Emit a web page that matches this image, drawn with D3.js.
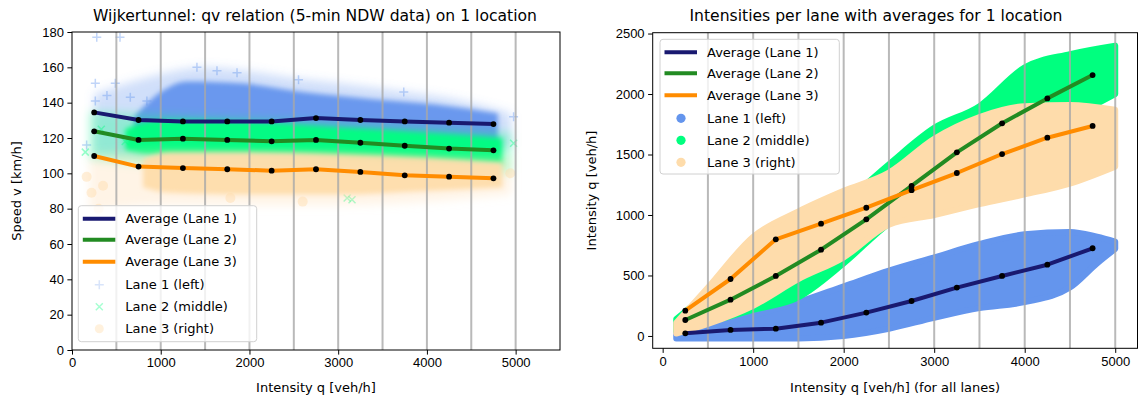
<!DOCTYPE html>
<html>
<head>
<meta charset="utf-8">
<script src="https://cdn.jsdelivr.net/npm/d3@7"></script>
<style>
body { margin: 0; background: #fff; }
svg { display: block; font-family: "DejaVu Sans", sans-serif; }
.tick text { font-size: 13px; fill: #000; }
.tick line { stroke: #000; }
</style>
</head>
<body>
<svg width="1138" height="399"></svg>
<script>
// bin centres of the averages and the grey vertical guides
const bins = [250, 750, 1250, 1750, 2250, 2750, 3250, 3750, 4250, 4750]
const guides = [500, 1000, 1500, 2000, 2500, 3000, 3500, 4000, 4500, 5000]

// left: average speed per lane [km/h]
const speedLane1 = [134.5, 130.2, 129.4, 129.4, 129.4, 131.3, 130.2, 129.4, 128.7, 127.9]
const speedLane2 = [123.8, 118.9, 119.6, 118.9, 118.1, 118.9, 117.3, 115.6, 114.0, 113.0]
const speedLane3 = [109.8, 103.8, 103.0, 102.3, 101.5, 102.3, 100.8, 98.9, 98.1, 97.2]

// right: average lane intensity [veh/h]
const flowLane1 = [22, 50, 60, 110, 193, 289, 400, 496, 589, 725]
const flowLane2 = [132, 300, 496, 713, 964, 1240, 1518, 1758, 1964, 2157]
const flowLane3 = [209, 471, 799, 928, 1060, 1205, 1347, 1504, 1639, 1736]

// left scatter clouds as [q, low, high] envelopes (halo = sparse, core = dense)
const haloSpeed1 = [[250, 110, 145], [900, 110, 155], [1500, 110, 160], [2500, 110, 154], [3500, 110, 148], [4500, 110, 140], [4950, 115, 134]]
const coreSpeed1 = [[700, 118, 132], [1000, 116, 146], [1300, 115, 152], [1900, 115, 151], [2600, 115, 146], [3400, 114, 142], [4100, 113, 139], [4800, 113, 134]]
const haloSpeed2 = [[200, 108, 135], [1000, 104, 133], [3000, 100, 129], [4950, 100, 123]]
const coreSpeed2 = [[600, 113, 125], [1000, 110, 130], [2000, 110, 129], [3000, 108, 126], [4000, 106, 123], [4850, 105, 120]]
const haloSpeed3 = [[200, 78, 110], [1000, 82, 113], [3000, 82, 112], [4950, 88, 109]]
const coreSpeed3 = [[800, 92, 108], [1100, 89, 112], [2000, 88, 112], [3000, 88, 111], [4000, 90, 109], [4850, 92, 106]]

// left scatter outliers [q, v]
const outSpeed1 = [[279, 177], [541, 177], [263, 151], [488, 151], [263, 141], [394, 144], [657, 143], [844, 141], [1408, 160], [1634, 158], [1860, 157], [2553, 153], [3739, 146], [4977, 132], [165, 116]]
const outSpeed2 = [[4977, 117], [3101, 86], [3156, 85], [150, 112], [330, 125], [600, 118]]
const outSpeed3 = [[165, 98], [220, 89], [350, 93], [4940, 100], [1785, 86], [300, 80], [2600, 84]]

// right scatter clouds as [q, low, high] envelopes
const cloudFlow1 = [[150, -20, 40], [500, -20, 90], [1000, -20, 170], [1500, -20, 280], [2000, 0, 410], [2500, 60, 540], [3000, 150, 650], [3500, 230, 760], [4000, 280, 840], [4500, 400, 860], [4800, 600, 820], [5000, 720, 780]]
const cloudFlow2 = [[150, 40, 140], [500, 110, 350], [1000, 215, 600], [1500, 320, 850], [2000, 600, 1100], [2500, 930, 1420], [3000, 1150, 1720], [3500, 1400, 1900], [4000, 1600, 2220], [4500, 1800, 2330], [5000, 2000, 2400]]
const cloudFlow3 = [[150, 20, 110], [500, 100, 400], [1000, 250, 820], [1500, 470, 1030], [2000, 650, 1200], [2500, 920, 1350], [3000, 1000, 1630], [3500, 1090, 1810], [4000, 1170, 1900], [4500, 1260, 1910], [5000, 1400, 1870]]

const navy = '#191970', green = '#228b22', orange = '#ff8c00'
const blue = '#6495ed', spring = '#00ff7f', peach = '#fedcab'

let svg = d3.select('svg')

let defs = svg.append('defs')
defs.append('filter').attr('id', 'soft').attr('x', '-10%').attr('y', '-30%').attr('width', '120%').attr('height', '160%')
.append('feGaussianBlur').attr('stdDeviation', 2.5)
defs.append('filter').attr('id', 'softer').attr('x', '-10%').attr('y', '-30%').attr('width', '120%').attr('height', '160%')
.append('feGaussianBlur').attr('stdDeviation', 5)

const drawAxes = (g, x, y, yTicks, title, titleX, xLabel, yLabel, yLabelX) => {
	g.append('g')
	.attr('transform', `translate(0, ${y.range()[0]})`)
	.call(d3.axisBottom(x).tickValues([0, 1000, 2000, 3000, 4000, 5000]).tickFormat(d3.format('d')).tickSize(4.6).tickPadding(3.5))
	.call(a => a.select('.domain').remove())

	g.append('g')
	.attr('transform', `translate(${x.range()[0]}, 0)`)
	.call(d3.axisLeft(y).tickValues(yTicks).tickFormat(d3.format('d')).tickSize(4.6).tickPadding(3.5))
	.call(a => a.select('.domain').remove())

	g.append('rect')
	.attr('x', x.range()[0]).attr('y', y.range()[1])
	.attr('width', x.range()[1] - x.range()[0])
	.attr('height', y.range()[0] - y.range()[1])
	.attr('fill', 'none').attr('stroke', '#000').attr('stroke-width', 1)

	g.append('text').attr('x', titleX).attr('y', 21)
	.attr('text-anchor', 'middle').attr('font-size', 15.6).text(title)

	g.append('text').attr('x', (x.range()[0] + x.range()[1]) / 2).attr('y', 392)
	.attr('text-anchor', 'middle').attr('font-size', 13).text(xLabel)

	g.append('text')
	.attr('transform', `translate(${yLabelX}, ${(y.range()[0] + y.range()[1]) / 2}) rotate(-90)`)
	.attr('text-anchor', 'middle').attr('font-size', 13).text(yLabel)
}

const drawGuides = (g, x, y) => {
	g.append('g').selectAll('line')
	.data(guides).enter().append('line')
	.attr('x1', d => x(d)).attr('x2', d => x(d))
	.attr('y1', y.range()[0]).attr('y2', y.range()[1])
	.attr('stroke', '#a8a8a8').attr('stroke-opacity', 0.8).attr('stroke-width', 2)
}

const drawAverages = (g, x, y, series) => {
	let line = d3.line().x((d, i) => x(bins[i])).y(d => y(d))
	series.forEach(s => {
		g.append('path').attr('d', line(s.values))
		.attr('fill', 'none').attr('stroke', s.color).attr('stroke-width', 4)
		.attr('stroke-linejoin', 'round')
	})
	series.forEach(s => {
		g.append('g').selectAll('circle')
		.data(s.values).enter().append('circle')
		.attr('cx', (d, i) => x(bins[i])).attr('cy', d => y(d))
		.attr('r', 2.9).attr('fill', '#000')
	})
}

const plusPath = (cx, cy, r) => `M${cx - r},${cy}H${cx + r}M${cx},${cy - r}V${cy + r}`
const crossPath = (cx, cy, r) => `M${cx - r},${cy - r}L${cx + r},${cy + r}M${cx - r},${cy + r}L${cx + r},${cy - r}`

const drawLegend = (g, lx, ly, w, h, markers) => {
	g.append('rect').attr('x', lx).attr('y', ly).attr('width', w).attr('height', h)
	.attr('rx', 3).attr('fill', '#fff').attr('fill-opacity', 0.8)
	.attr('stroke', '#d0d0d0').attr('stroke-width', 1)
	const rows = [13, 34, 56, 79, 101, 123]
	const labels = ['Average (Lane 1)', 'Average (Lane 2)', 'Average (Lane 3)', 'Lane 1 (left)', 'Lane 2 (middle)', 'Lane 3 (right)']
	;[navy, green, orange].forEach((c, i) => {
		g.append('line').attr('x1', lx + 4.5).attr('x2', lx + 37)
		.attr('y1', ly + rows[i]).attr('y2', ly + rows[i])
		.attr('stroke', c).attr('stroke-width', 4)
	})
	markers(lx + 21, rows.slice(3).map(r => ly + r))
	labels.forEach((t, i) => {
		g.append('text').attr('x', lx + 47).attr('y', ly + rows[i]).attr('dy', '0.36em')
		.attr('font-size', 13).text(t)
	})
}

// ---------- left chart: speed vs intensity ----------
let left = svg.append('g')
let xL = d3.scaleLinear().domain([0, 5500]).range([72, 560])
let yL = d3.scaleLinear().domain([0, 180]).range([350, 32])

let areaL = d3.area().x(d => xL(d[0])).y0(d => yL(d[1])).y1(d => yL(d[2])).curve(d3.curveMonotoneX)

const cloudsL = [
	{ halo: haloSpeed1, core: coreSpeed1, out: outSpeed1, color: blue, mark: 'plus' },
	{ halo: haloSpeed2, core: coreSpeed2, out: outSpeed2, color: spring, mark: 'cross' },
	{ halo: haloSpeed3, core: coreSpeed3, out: outSpeed3, color: peach, mark: 'circle' }
]
cloudsL.forEach(c => {
	left.append('path').attr('d', areaL(c.halo)).attr('fill', c.color).attr('fill-opacity', 0.3)
		.attr('filter', 'url(#softer)')
	left.append('path').attr('d', areaL(c.core)).attr('fill', c.color).attr('fill-opacity', 0.95)
		.attr('filter', 'url(#soft)')
	if (c.mark === 'circle') {
		left.append('g').selectAll('circle').data(c.out).enter().append('circle')
		.attr('cx', d => xL(d[0])).attr('cy', d => yL(d[1])).attr('r', 5)
		.attr('fill', c.color).attr('fill-opacity', 0.45)
	} else {
		let f = c.mark === 'plus' ? plusPath : crossPath
		left.append('g').selectAll('path').data(c.out).enter().append('path')
		.attr('d', d => f(xL(d[0]), yL(d[1]), c.mark === 'plus' ? 4.5 : 3.5))
		.attr('stroke', c.color).attr('stroke-opacity', 0.4).attr('stroke-width', 1.5)
	}
})

drawGuides(left, xL, yL)
drawAverages(left, xL, yL, [
	{ values: speedLane1, color: navy },
	{ values: speedLane2, color: green },
	{ values: speedLane3, color: orange }
])
drawLegend(left, 78.3, 205.7, 178.4, 136, (cx, ys) => {
	left.append('path').attr('d', plusPath(cx, ys[0], 4.5)).attr('stroke', blue).attr('stroke-opacity', 0.25).attr('stroke-width', 1.5)
	left.append('path').attr('d', crossPath(cx, ys[1], 3.5)).attr('stroke', spring).attr('stroke-opacity', 0.35).attr('stroke-width', 1.5)
	left.append('circle').attr('cx', cx).attr('cy', ys[2]).attr('r', 4.5).attr('fill', peach).attr('fill-opacity', 0.4)
})
drawAxes(left, xL, yL, d3.range(0, 181, 20),
	'Wijkertunnel: qv relation (5-min NDW data) on 1 location', 315,
	'Intensity q [veh/h]', 'Speed v [km/h]', 21)

// ---------- right chart: lane intensity vs total intensity ----------
let right = svg.append('g')
let xR = d3.scaleLinear().domain([-110, 5246]).range([652.7, 1137.5])
let yR = d3.scaleLinear().domain([-102, 2507]).range([348.3, 32.7])

let areaR = d3.area().x(d => xR(d[0])).y0(d => yR(d[1])).y1(d => yR(d[2])).curve(d3.curveMonotoneX)

;[[cloudFlow1, blue], [cloudFlow2, spring], [cloudFlow3, peach]].forEach(([data, color]) => {
	right.append('path').attr('d', areaR(data))
	.attr('fill', color).attr('stroke', color).attr('stroke-width', 6).attr('stroke-linejoin', 'round')
})

drawGuides(right, xR, yR)
drawAverages(right, xR, yR, [
	{ values: flowLane1, color: navy },
	{ values: flowLane2, color: green },
	{ values: flowLane3, color: orange }
])
drawLegend(right, 660, 39.3, 179.3, 134.7, (cx, ys) => {
	;[blue, spring, peach].forEach((c, i) => {
		right.append('circle').attr('cx', cx).attr('cy', ys[i]).attr('r', 4.6).attr('fill', c)
	})
})
drawAxes(right, xR, yR, d3.range(0, 2501, 500),
	'Intensities per lane with averages for 1 location', 876,
	'Intensity q [veh/h] (for all lanes)', 'Intensity q [veh/h]', 596)
</script>
</body>
</html>
